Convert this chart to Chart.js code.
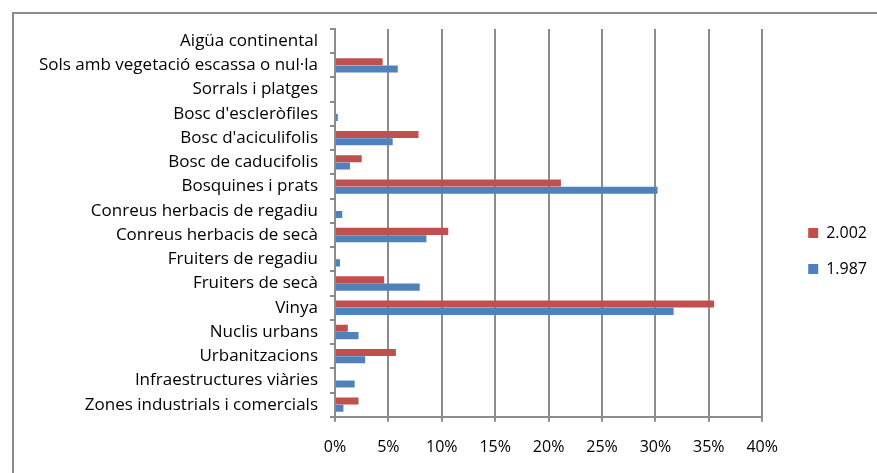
<!DOCTYPE html>
<html>
<head>
<meta charset="utf-8">
<script src="https://cdn.jsdelivr.net/npm/chart.js@4"></script>
<style>
  html, body { margin: 0; padding: 0; background: #fff; overflow: hidden; }
  #frame { position: absolute; left: 12px; top: 12px; width: 900px; height: 500px;
           border-left: 2px solid #8c8c8c; border-top: 2px solid #8c8c8c; }
  #wrap { position: absolute; left: 0; top: 0; width: 877px; height: 473px; }
</style>
</head>
<body>
<div id="frame"></div>
<div id="wrap"><canvas id="myChart" width="877" height="473"></canvas></div>
<script>
// categories, top to bottom as shown
const categories = [
  'Aigüa continental',
  'Sols amb vegetació escassa o nul·la',
  'Sorrals i platges',
  "Bosc d'escleròfiles",
  "Bosc d'aciculifolis",
  'Bosc de caducifolis',
  'Bosquines i prats',
  'Conreus herbacis de regadiu',
  'Conreus herbacis de secà',
  'Fruiters de regadiu',
  'Fruiters de secà',
  'Vinya',
  'Nuclis urbans',
  'Urbanitzacions',
  'Infraestructures vi\u00e0ries',
  'Zones industrials i comercials'
];

const seriesNames = ['2.002', '1.987'];

// percentages
const values2002 = [0, 4.46, 0, 0, 7.82, 2.5, 21.15, 0, 10.6, 0, 4.6, 35.5, 1.2, 5.7, 0, 2.2];
const values1987 = [0, 5.88, 0, 0.26, 5.4, 1.4, 30.2, 0.68, 8.56, 0.47, 7.93, 31.7, 2.2, 2.83, 1.84, 0.79];

const xTicks = [0, 5, 10, 15, 20, 25, 30, 35, 40];

const font = { family: '"Open Sans", sans-serif', size: 16 };
const catFont = { family: '"Open Sans", sans-serif', size: 17 };

const ctx = document.getElementById('myChart').getContext('2d');
const myChart = new Chart(ctx, {
  type: 'bar',
  data: {
    labels: categories,
    datasets: [{
      label: seriesNames[0],
      data: values2002,
      backgroundColor: '#c0504d',
      borderWidth: 0
    }, {
      label: seriesNames[1],
      data: values1987,
      backgroundColor: '#4f81bd',
      borderWidth: 0
    }]
  },
  options: {
    indexAxis: 'y',
    responsive: false,
    animation: false,
    layout: { padding: { top: 29, left: 20, right: 0, bottom: 0 } },
    datasets: { bar: { categoryPercentage: 0.6, barPercentage: 0.97 } },
    plugins: {
      tooltip: { enabled: false },
      legend: {
        position: 'right',
        labels: {
          color: '#000',
          font: font,
          boxWidth: 10,
          boxHeight: 10,
          padding: 20
        }
      }
    },
    scales: {
      x: {
        min: 0,
        max: 40,
        afterBuildTicks: (scale) => { scale.ticks = xTicks.map(v => ({ value: v })); },
        ticks: { color: '#000', font: font, padding: 16, callback: v => v + '%' },
        grid: { color: '#8c8c8c', lineWidth: 2, tickLength: 5 },
        border: { color: '#8c8c8c', width: 2 }
      },
      y: {
        afterFit: (scale) => { scale.width = 315; },
        ticks: { color: '#000', font: catFont, padding: 12, autoSkip: false },
        grid: { drawOnChartArea: false, color: '#8c8c8c', lineWidth: 2, tickLength: 5 },
        border: { color: '#8c8c8c', width: 2 }
      },
      // empty spacer between plot and legend
      gap: {
        type: 'linear',
        position: 'right',
        afterFit: (scale) => { scale.width = 26; },
        ticks: { display: false },
        grid: { display: false },
        border: { display: false }
      }
    }
  }
});
</script>
</body>
</html>
